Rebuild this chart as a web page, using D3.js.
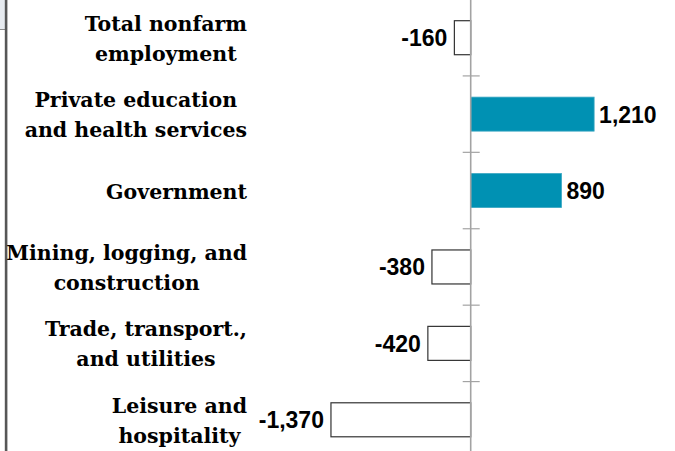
<!DOCTYPE html>
<html>
<head>
<meta charset="utf-8">
<script src="https://cdn.jsdelivr.net/npm/d3@7"></script>
<style>
  body { margin: 0; background: #fff; }
  svg { display: block; }
</style>
</head>
<body>
<div id="chart"></div>
<script>
// industries, top to bottom
var categories = [
  ["Total nonfarm", "employment"],
  ["Private education", "and health services"],
  ["Government"],
  ["Mining, logging, and", "construction"],
  ["Trade, transport.,", "and utilities"],
  ["Leisure and", "hospitality"]
];
var values = [-160, 1210, 890, -380, -420, -1370];

var width = 675, height = 451;

var svg = d3.select("#chart").append("svg")
    .attr("width", width)
    .attr("height", height);

// frame bits on the left edge
svg.append("rect").attr("x", 0).attr("y", 0).attr("width", 5).attr("height", 29)
    .attr("fill", "#e7ebf0");
svg.append("line").attr("x1", 0).attr("x2", 5).attr("y1", 29.5).attr("y2", 29.5)
    .attr("stroke", "#8a8a8a");
svg.append("rect").attr("x", 4.8).attr("y", 0).attr("width", 2.6).attr("height", height)
    .attr("fill", "#575757");

var ids = d3.range(categories.length);

var xScale = d3.scaleLinear()
    .domain([-1500, 1500])
    .range([317.7, 623.7]);

var yScale = d3.scaleBand()
    .domain(ids)
    .range([-0.5, 458])
    .paddingInner(0.555)
    .paddingOuter(0.2775);

var x0 = xScale(0);
var step = yScale.step();

// bars
svg.selectAll("rect.bar")
    .data(ids)
  .enter().append("rect")
    .attr("class", "bar")
    .attr("x", function(i) { return Math.min(xScale(values[i]), x0); })
    .attr("width", function(i) { return Math.abs(xScale(values[i]) - x0); })
    .attr("y", function(i) { return yScale(i); })
    .attr("height", yScale.bandwidth())
    .attr("fill", function(i) { return values[i] > 0 ? "#0091b3" : "#fff"; })
    .attr("stroke", function(i) { return values[i] > 0 ? "#3aa7c2" : "#333"; })
    .attr("stroke-width", function(i) { return values[i] > 0 ? 0.8 : 1.2; });

// zero axis line with ticks between categories
svg.append("line")
    .attr("x1", x0).attr("x2", x0)
    .attr("y1", 0).attr("y2", height)
    .attr("stroke", "#a3a3a3")
    .attr("stroke-width", 1.6);

svg.selectAll("line.tick")
    .data(d3.range(1, categories.length))
    .enter().append("line")
    .attr("class", "tick")
    .attr("x1", x0 - 8).attr("x2", x0 + 9)
    .attr("y1", function(k) { return yScale.range()[0] + k * step; })
    .attr("y2", function(k) { return yScale.range()[0] + k * step; })
    .attr("stroke", "#a3a3a3")
    .attr("stroke-width", 1.2);

// value labels (plain hyphen for negatives)
var fmt = function(v) { return d3.format(",")(v).replace("\u2212", "-"); };
svg.selectAll("text.value")
    .data(ids)
  .enter().append("text")
    .attr("class", "value")
    .attr("x", function(i) { return values[i] > 0 ? xScale(values[i]) + 5 : xScale(values[i]) - 7; })
    .attr("y", function(i) { return yScale(i) + yScale.bandwidth() / 2 + 8.5; })
    .attr("text-anchor", function(i) { return values[i] > 0 ? "start" : "end"; })
    .style("font-family", "'Liberation Sans', Arial, sans-serif")
    .style("font-weight", "bold")
    .style("font-size", "23px")
    .text(function(i) { return fmt(values[i]); });

// category labels: block right aligned, lines centred within block
var labelRight = 247;
ids.forEach(function(i) {
  var lines = categories[i];
  var cy = yScale(i) + yScale.bandwidth() / 2;
  var g = svg.append("g");
  var texts = g.selectAll("text")
      .data(lines)
    .enter().append("text")
      .attr("y", function(d, k) { return cy + 8 + (k - (lines.length - 1) / 2) * 30; })
      .attr("text-anchor", "middle")
      .style("font-family", "'DejaVu Serif', serif")
      .style("font-weight", "bold")
      .style("font-size", "20.5px")
      .text(function(d) { return d; });
  var maxW = d3.max(texts.nodes(), function(n) { return n.getComputedTextLength(); });
  texts.attr("x", labelRight - maxW / 2);
});
</script>
</body>
</html>
